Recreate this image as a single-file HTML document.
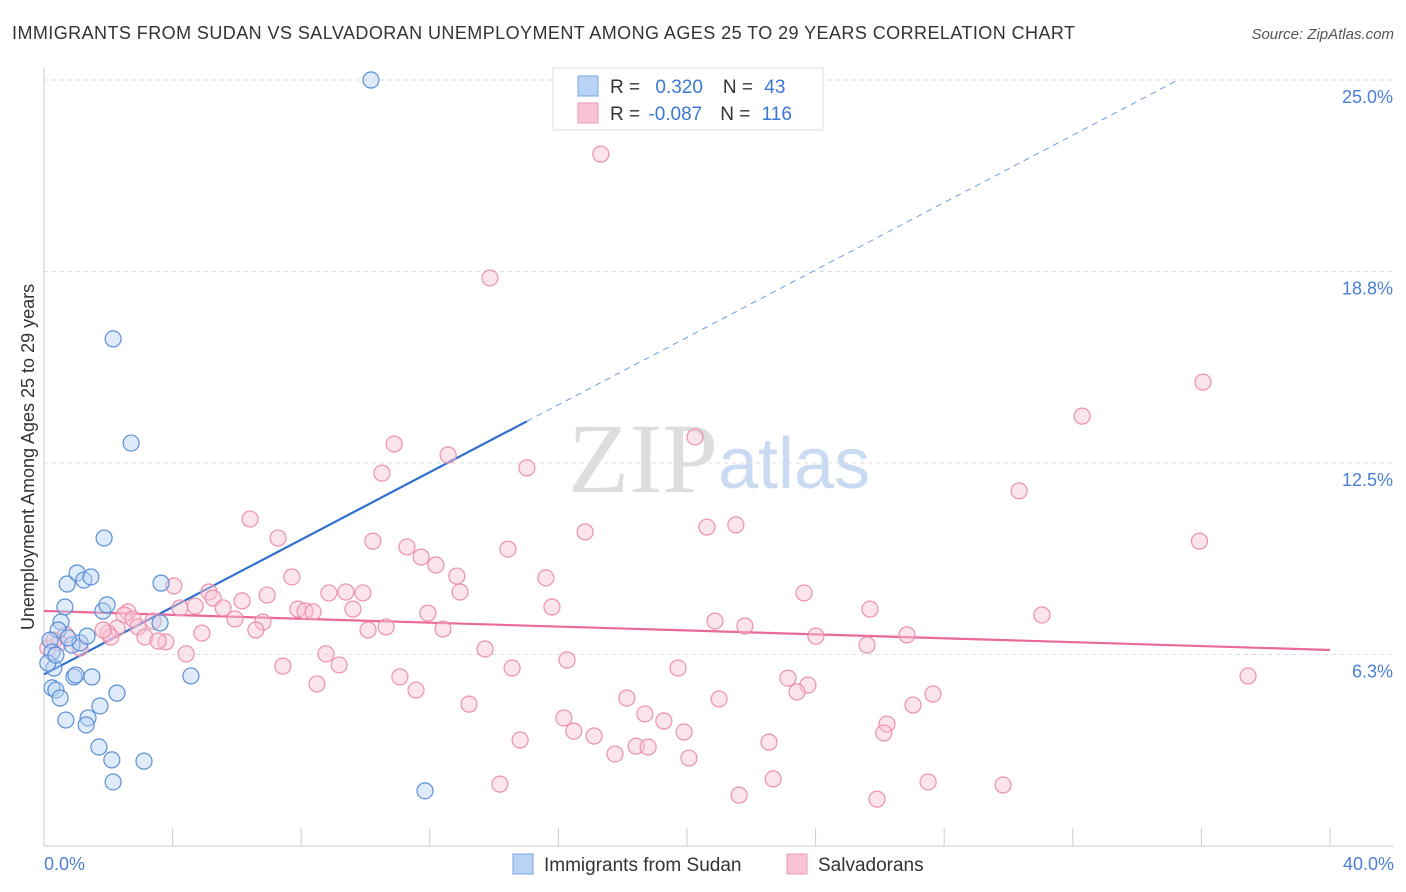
<!DOCTYPE html>
<html><head><meta charset="utf-8"><style>
body{margin:0;background:#fff;font-family:"Liberation Sans",sans-serif;}
#wrap{position:relative;width:1406px;height:892px;overflow:hidden;}
</style></head><body>
<div id="wrap">
<svg id="chart" width="1406" height="892">
<text x="12" y="39" font-size="18" fill="#333" textLength="1063" lengthAdjust="spacing">IMMIGRANTS FROM SUDAN VS SALVADORAN UNEMPLOYMENT AMONG AGES 25 TO 29 YEARS CORRELATION CHART</text>
<text x="1394" y="39" font-size="15" fill="#555" font-style="italic" text-anchor="end">Source: ZipAtlas.com</text>
<text x="34" y="457" font-size="18" fill="#333" text-anchor="middle" transform="rotate(-90 34 457)">Unemployment Among Ages 25 to 29 years</text>
<text x="718" y="492" font-size="100" fill="#ddd" text-anchor="end" font-family="Liberation Serif">ZIP</text>
<text x="718" y="488" font-size="72" fill="#c9daf2">atlas</text>
<g id="grid"></g><g id="axes"></g><g id="trend"></g><g id="pts"></g>
<g>
<rect x="553" y="68" width="270" height="62" fill="#fff" stroke="#ddd"/>
<rect x="578" y="76" width="20" height="20" fill="#b9d3f5" stroke="#7aa6e0"/>
<rect x="578" y="103" width="20" height="20" fill="#f8c3d3" stroke="#ec9ab4"/>
<text x="610" y="93" font-size="19" fill="#333">R = <tspan fill="#3a78d4" dx="10">0.320</tspan><tspan dx="20" fill="#333">N = </tspan><tspan fill="#3a78d4" dx="6">43</tspan></text>
<text x="610" y="120" font-size="19" fill="#333">R = <tspan fill="#3a78d4" dx="3">-0.087</tspan><tspan dx="18" fill="#333">N = </tspan><tspan fill="#3a78d4" dx="6">116</tspan></text>
</g>
<g>
<rect x="513" y="854" width="20" height="20" fill="#b9d3f5" stroke="#7aa6e0"/>
<text x="544" y="871" font-size="19" fill="#333">Immigrants from Sudan</text>
<rect x="787" y="854" width="20" height="20" fill="#f8c3d3" stroke="#ec9ab4"/>
<text x="818" y="871" font-size="19" fill="#333">Salvadorans</text>
</g>
</svg>
</div>
<script>
const yTicks=[6.25,12.5,18.75,25];
const yTickLabels=["6.3%","12.5%","18.8%","25.0%"];
const xTickLabels=["0.0%","40.0%"];
const sudanX=[10.17,2.15,2.71,1.87,3.64,0.72,1.03,1.24,1.46,0.65,1.83,1.96,3.61,0.53,0.44,0.87,1.12,1.34,0.75,0.19,0.25,0.31,0.12,0.93,0.99,1.49,4.57,0.25,0.37,0.50,2.27,1.74,1.37,0.68,1.31,1.71,2.11,3.11,2.15,11.85,0.37];
const sudanY=[25.0,16.55,13.15,10.05,8.58,8.55,8.91,8.68,8.78,7.80,7.67,7.87,7.28,7.31,7.05,6.56,6.63,6.85,6.79,6.72,6.33,5.81,5.97,5.52,5.58,5.52,5.55,5.16,5.09,4.83,4.99,4.57,4.18,4.11,3.95,3.23,2.81,2.77,2.09,1.80,6.23];
const salvX=[17.32,13.87,36.05,32.29,20.25,10.89,12.57,10.51,15.02,30.33,6.41,20.62,21.52,16.83,35.94,7.28,10.23,11.29,14.43,11.73,12.19,7.71,12.84,15.61,4.04,5.13,6.94,8.86,9.39,9.92,12.94,23.64,6.16,5.26,4.70,4.23,5.57,7.90,8.12,8.37,9.61,11.94,15.80,25.69,31.04,5.94,6.81,2.61,2.49,2.77,3.39,20.87,21.80,10.64,10.08,12.41,6.59,4.91,2.27,1.99,2.92,3.14,3.79,3.55,2.08,1.84,0.68,0.47,1.12,24.01,26.84,25.60,13.72,8.77,4.42,16.27,9.18,7.43,14.56,19.72,11.07,23.14,8.49,23.76,23.42,11.57,37.45,27.65,18.13,21.0,13.22,27.03,18.69,16.17,19.28,26.22,16.48,26.12,19.91,14.81,17.11,22.55,18.42,18.79,17.76,20.06,22.68,14.18,27.50,29.83,21.62,25.91,0.12,0.31];
const salvY=[22.58,18.54,15.14,14.03,13.35,13.12,12.76,12.17,12.34,11.59,10.67,10.41,10.48,10.25,9.95,10.05,9.95,9.76,9.69,9.43,9.17,8.78,8.81,8.75,8.49,8.29,8.19,8.26,8.29,8.26,8.29,8.26,8.0,8.09,7.83,7.77,7.77,7.73,7.67,7.64,7.73,7.60,7.80,7.73,7.54,7.41,7.31,7.64,7.54,7.41,7.34,7.34,7.18,7.15,7.05,7.08,7.05,6.95,7.11,6.95,7.15,6.82,6.66,6.69,6.82,7.05,6.89,6.63,6.46,6.85,6.89,6.56,6.43,6.27,6.27,6.07,5.91,5.87,5.81,5.81,5.52,5.48,5.29,5.25,5.03,5.09,5.55,4.96,4.83,4.80,4.63,4.60,4.31,4.18,4.08,3.98,3.75,3.69,3.72,3.46,3.59,3.39,3.26,3.23,3.0,2.87,2.19,2.02,2.09,1.99,1.66,1.53,6.46,6.72];
const sudanTrend=[5.6,0.55]; // intercept, slope
const salvTrend=[7.67,-0.0318];
const X0=44,X1=1330,Y0=846;
const sx=v=>X0+(X1-X0)*v/40;
const sy=v=>Y0-v*30.64;
const NS="http://www.w3.org/2000/svg";
function mk(tag,attrs,parent){const e=document.createElementNS(NS,tag);for(const k in attrs)e.setAttribute(k,attrs[k]);document.getElementById(parent).appendChild(e);return e;}
yTicks.forEach((t,i)=>{
 const g=mk('line',{x1:X0,x2:1394,y1:sy(t),y2:sy(t),stroke:'#ddd','stroke-dasharray':'4,4'},'grid');
 
 
 const l=mk('text',{x:1393,y:sy(t)+23,'font-size':18,fill:'#4a7fd6','text-anchor':'end'},'grid');
 l.textContent=yTickLabels[i];
 
 
});
const ax=mk('line',{x1:X0,x2:X1+64,y1:Y0,y2:Y0,stroke:'#ccc'},'axes');


const ay=mk('line',{x1:X0,x2:X0,y1:68,y2:Y0,stroke:'#ccc'},'axes');


for(let i=0;i<=10;i++){const t=mk('line',{x1:sx(i*4),x2:sx(i*4),y1:828,y2:Y0,stroke:'#ccc'},'axes');
 
 }
[[0,'start',44],[40,'end',1394]].forEach(([v,a,x],i)=>{const l=mk('text',{x:x,y:870,'font-size':18,fill:'#4a7fd6','text-anchor':a},'axes');l.textContent=xTickLabels[i];
 
 });
function pts(xs,ys,fill,stroke,name){xs.forEach((x,i)=>{const c=mk('circle',{cx:sx(x),cy:sy(ys[i]),r:8,fill:fill,'fill-opacity':0.45,stroke:stroke,'stroke-width':1.2},'pts');
 
 });}
pts(salvX,salvY,'#f8c3d3','#ec90ae','salvadoran-point');
pts(sudanX,sudanY,'#b9d3f5','#5a8fd8','sudan-point');
const xs=15.02,xe=(25-sudanTrend[0])/sudanTrend[1];
const b1=mk('line',{x1:sx(0),y1:sy(sudanTrend[0]),x2:sx(xs),y2:sy(sudanTrend[0]+sudanTrend[1]*xs),stroke:'#2f6fd0','stroke-width':2.2},'trend');


const b2=mk('line',{x1:sx(xs),y1:sy(sudanTrend[0]+sudanTrend[1]*xs),x2:sx(xe),y2:sy(25),stroke:'#6e9ddf','stroke-width':1,'stroke-dasharray':'6,5'},'trend');


const p1=mk('line',{x1:sx(0),y1:sy(salvTrend[0]),x2:sx(40),y2:sy(salvTrend[0]+salvTrend[1]*40),stroke:'#e8699a','stroke-width':2.2},'trend');


</script>
</body></html>
